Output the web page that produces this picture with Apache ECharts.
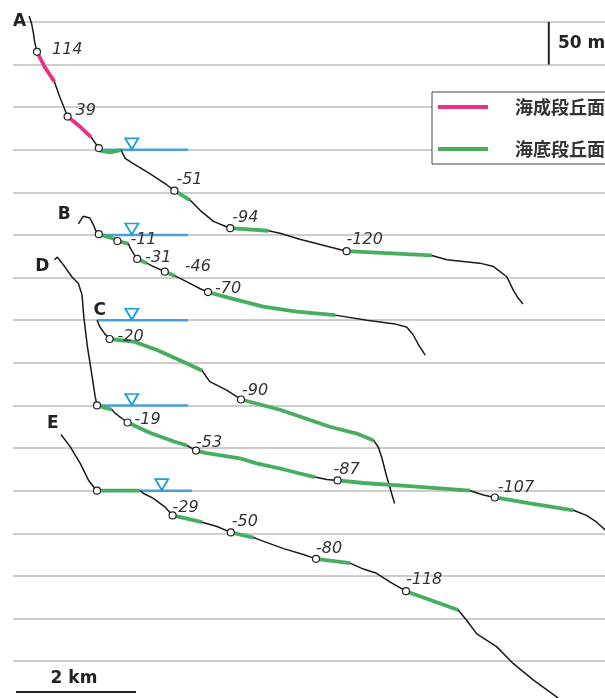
<!DOCTYPE html>
<html lang="ja">
<head>
<meta charset="UTF-8">
<title>段丘面 地形断面</title>
<style>html,body{margin:0;padding:0;background:#fff}</style>
</head>
<body>
<div id="main" style="width:605px;height:698px"></div>
<script src="https://cdn.jsdelivr.net/npm/echarts@6/dist/echarts.min.js"></script>
<script>
// 断面データ [距離 km, 標高 m]
var profileNames = ['A', 'B', 'C', 'D', 'E'];
var profileOffsets = [0, -100, -200, -300, -400];   // 断面ごとの表示ずらし (m)

var profileA = [[0.27,157],[0.31,148],[0.34,137],[0.36,127],[0.40,115],[0.53,97],[0.69,80],[0.78,62],[0.91,39],[1.12,27],[1.30,15],[1.43,2],[1.45,-1],[1.62,-3],[1.76,-1],[1.80,0],[1.87,-10],[2.00,-16],[2.28,-28],[2.56,-41],[2.69,-48],[2.95,-59],[3.12,-71],[3.34,-84],[3.62,-92],[4.26,-95],[4.45,-98],[4.78,-105],[5.56,-119],[6.98,-124],[7.23,-129],[7.78,-133],[8.01,-137],[8.23,-149],[8.34,-165],[8.42,-174],[8.50,-181]];
var profileB = [[1.09,13],[1.17,22],[1.28,20],[1.34,12],[1.38,5],[1.43,1],[1.62,-3],[1.70,-5],[1.74,-7],[1.92,-10],[1.96,-16],[2.02,-23],[2.07,-28],[2.23,-33],[2.34,-37],[2.53,-43],[2.70,-48],[2.90,-55],[3.12,-63],[3.25,-67],[3.62,-74],[4.17,-84],[4.73,-90],[5.37,-94],[5.90,-100],[6.34,-104],[6.56,-108],[6.67,-117],[6.76,-129],[6.87,-141]];
var profileC = [[1.40,0],[1.45,-8],[1.53,-16],[1.61,-22],[2.01,-25],[2.40,-35],[2.78,-47],[3.15,-59],[3.28,-72],[3.56,-82],[3.80,-93],[4.45,-105],[5.28,-125],[5.73,-133],[6.01,-141],[6.09,-149],[6.15,-162],[6.23,-184],[6.31,-203],[6.36,-215]];
var profileD = [[0.69,171],[0.74,174],[0.84,165],[0.98,151],[1.09,143],[1.15,130],[1.18,104],[1.24,69],[1.31,38],[1.37,10],[1.40,0],[1.65,-5],[1.70,-9],[1.81,-15],[1.91,-20],[2.28,-32],[2.67,-42],[2.90,-47],[3.05,-53],[3.23,-56],[3.78,-62],[4.06,-68],[4.45,-74],[4.73,-79],[5.03,-84],[5.23,-87],[5.41,-88],[5.84,-91],[6.67,-95],[7.62,-100],[7.84,-105],[8.03,-108],[8.62,-115],[9.34,-123],[9.56,-129],[9.73,-137],[9.87,-146],[9.98,-158]];
var profileE = [[0.80,66],[0.95,52],[1.12,32],[1.26,12],[1.34,5],[1.40,0],[2.12,0],[2.17,-3],[2.34,-9],[2.53,-19],[2.66,-29],[3.15,-37],[3.40,-42],[3.63,-49],[4.01,-55],[4.12,-58],[4.51,-68],[4.84,-75],[5.05,-80],[5.62,-85],[5.84,-92],[6.06,-97],[6.28,-107],[6.55,-118],[7.42,-140],[7.56,-152],[7.73,-168],[8.06,-183],[8.34,-203],[8.67,-222],[9.06,-242],[9.22,-252]];

// 段丘面の区間 [始点 km, 終点 km, 種類]
var MARINE = '海成段丘面', SUBMARINE = '海底段丘面';
var terracesA = [[0.40,0.69,MARINE],[0.91,1.30,MARINE],[1.43,1.80,SUBMARINE],[2.69,2.95,SUBMARINE],[3.62,4.26,SUBMARINE],[5.56,6.98,SUBMARINE]];
var terracesB = [[1.43,1.92,SUBMARINE],[2.07,2.23,SUBMARINE],[2.53,2.70,SUBMARINE],[3.25,5.37,SUBMARINE]];
var terracesC = [[1.61,3.15,SUBMARINE],[3.80,6.01,SUBMARINE]];
var terracesD = [[1.40,1.65,SUBMARINE],[1.91,2.90,SUBMARINE],[3.05,5.03,SUBMARINE],[5.41,7.62,SUBMARINE],[8.03,9.34,SUBMARINE]];
var terracesE = [[1.40,2.12,SUBMARINE],[2.66,3.15,SUBMARINE],[3.63,4.01,SUBMARINE],[5.05,5.62,SUBMARINE],[6.55,7.42,SUBMARINE]];

// 旧汀線の点 [km, m, 表示値]
var marksA = [[0.40,115,'114'],[0.91,39,'39'],[1.43,2,''],[2.69,-48,'-51'],[3.62,-92,'-94'],[5.56,-119,'-120']];
var marksB = [[1.43,1,''],[1.74,-7,'-11'],[2.07,-28,'-31'],[2.53,-43,'-46'],[3.25,-67,'-70']];
var marksC = [[1.61,-22,'-20'],[3.80,-93,'-90']];
var marksD = [[1.40,0,''],[1.91,-20,'-19'],[3.05,-53,'-53'],[5.41,-88,'-87'],[8.03,-108,'-107']];
var marksE = [[1.40,0,''],[2.66,-29,'-29'],[3.63,-49,'-50'],[5.05,-80,'-80'],[6.55,-118,'-118']];

// 海面 [始点 km, 終点 km] と ▽ の位置 km
var seaLevels = [[1.43,2.92],[1.43,2.92],[1.40,2.92],[1.40,2.92],[1.40,2.98]];
var seaMarkX = [1.98, 1.98, 1.98, 1.98, 2.48];

// ラベル位置 (px)
var labelOffsets = [
	[[15,-2],[8,-6],[0,0],[2,-11],[2,-10],[0,-11]],
	[[0,0],[13,-1],[8,-1],[20,-5],[7,-3]],
	[[8,-2],[1,-9]],
	[[0,0],[7,-3],[0,-8],[-4,-11],[3,-10]],
	[[0,0],[0,-8],[1,-11],[0,-10],[0,-11]]
];

var GREEN = '#47ad5f', PINK = '#e5338a', BLUE = '#4a9fd8', TRI = '#1d9fd8';

var profiles = [
	{line: profileA, terraces: terracesA, marks: marksA},
	{line: profileB, terraces: terracesB, marks: marksB},
	{line: profileC, terraces: terracesC, marks: marksC},
	{line: profileD, terraces: terracesD, marks: marksD},
	{line: profileE, terraces: terracesE, marks: marksE}
];

var series = [];
profiles.forEach(function(p, i) {
	var off = profileOffsets[i];
	var shift = function(pt) { return [pt[0], pt[1] + off]; };

	// 海面
	series.push({
		type: 'line', silent: true, symbol: 'none', z: 2, clip: false,
		data: [[seaLevels[i][0], off], [seaLevels[i][1], off]],
		lineStyle: {color: BLUE, width: 2.5}
	});
	// 断面
	series.push({
		type: 'line', silent: true, symbol: 'none', z: 3, clip: false,
		data: p.line.map(shift),
		lineStyle: {color: '#1a1a1a', width: 1.5}
	});
	// 段丘面
	p.terraces.forEach(function(t) {
		var seg = p.line.filter(function(pt) {
			return pt[0] >= t[0] - 1e-6 && pt[0] <= t[1] + 1e-6;
		}).map(shift);
		var c = t[2] === MARINE ? PINK : GREEN;
		series.push({
			type: 'line', name: t[2], silent: true, symbol: 'none', z: 4, clip: false,
			data: seg,
			itemStyle: {color: c},
			lineStyle: {color: c, width: 3.8, cap: 'butt'}
		});
	});
	// 点とラベル
	series.push({
		type: 'scatter', silent: true, z: 6, clip: false,
		symbol: 'circle', symbolSize: 7,
		itemStyle: {color: '#fff', borderColor: '#222', borderWidth: 1.2, opacity: 1},
		label: {
			show: true, position: 'inside', formatter: '{b}',
			align: 'left', verticalAlign: 'middle',
			fontFamily: 'DejaVu Sans', fontStyle: 'italic', fontSize: 16, color: '#333'
		},
		data: p.marks.map(function(m, j) {
			return {name: m[2], value: shift(m), label: {offset: labelOffsets[i][j]}};
		})
	});
	// ▽
	series.push({
		type: 'scatter', silent: true, z: 5, clip: false,
		symbol: 'path://M0,0 L12,0 L6,10 Z', symbolSize: [13, 11], symbolOffset: [0, -6],
		itemStyle: {color: '#fff', borderColor: TRI, borderWidth: 1.8, opacity: 1},
		data: [[seaMarkX[i], off]]
	});
});

// スケールバー
var scaleKm = [[0.05, -636.4], [2.05, -636.4]];
var scaleM = [[8.93, 150], [8.93, 100]];
[scaleKm, scaleM].forEach(function(d) {
	series.push({
		type: 'line', silent: true, symbol: 'none', z: 3, clip: false,
		data: d, lineStyle: {color: '#222', width: 2}
	});
});

var myChart = echarts.init(document.getElementById('main'));
var boldText = {fontFamily: 'DejaVu Sans', fontWeight: 'bold', fontSize: 17, fill: '#222'};
function txt(s, x, y, align) {
	return {
		type: 'text', x: x, y: y, z: 10,
		style: Object.assign({text: s, textAlign: align || 'center', textVerticalAlign: 'middle'}, boldText)
	};
}

var option = {
	animation: false,
	// 50 m = 42.6 px, 1 km = 60 px
	grid: {left: 13, right: 0, top: 0, bottom: 36.9},
	xAxis: {type: 'value', min: 0, max: 9.867, show: false},
	yAxis: {
		type: 'value', min: -600, max: 175.8, interval: 50,
		axisLine: {show: false}, axisTick: {show: false}, axisLabel: {show: false},
		splitLine: {show: true, showMinLine: true, showMaxLine: false,
			lineStyle: {color: '#bdbdbd', width: 1.5}}
	},
	legend: {
		data: [MARINE, SUBMARINE],
		orient: 'vertical', left: 432, top: 92,
		icon: 'rect', itemWidth: 50, itemHeight: 4, itemGap: 22,
		padding: [5, 6, 5, 6],
		backgroundColor: '#fff', borderColor: '#444', borderWidth: 1,
		selectedMode: false,
		textStyle: {fontFamily: 'Noto Sans CJK JP', fontWeight: 'bold', fontSize: 18,
			color: '#333', lineHeight: 20, padding: [0, 0, 0, 22]}
	},
	graphic: [
		txt('A', 19.7, 21.5),
		txt('B', 64.2, 215),
		txt('C', 99.7, 310.5),
		txt('D', 42.3, 266.5),
		txt('E', 52.8, 423.5),
		txt('50 m', 558, 43.5, 'left'),
		txt('2 km', 74, 678.5)
	],
	series: series
};

myChart.setOption(option);
</script>
</body>
</html>
